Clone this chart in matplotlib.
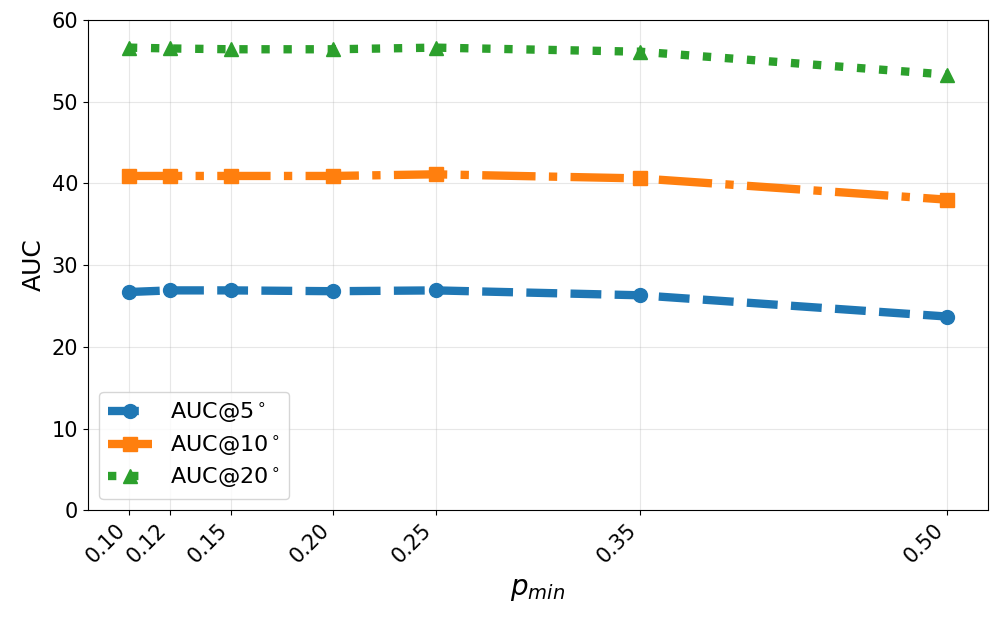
import matplotlib
matplotlib.use("Agg")
import matplotlib.pyplot as plt

# p_min values and AUC results
p_min = [0.10, 0.12, 0.15, 0.20, 0.25, 0.35, 0.50]
auc5 = [26.7, 26.9, 26.9, 26.8, 26.9, 26.3, 23.7]
auc10 = [40.9, 40.9, 40.9, 40.9, 41.1, 40.6, 38.0]
auc20 = [56.6, 56.5, 56.4, 56.4, 56.6, 56.1, 53.3]
tick_labels = ["0.10", "0.12", "0.15", "0.20", "0.25", "0.35", "0.50"]

fig, ax = plt.subplots(figsize=(10, 6.2), dpi=100)

ax.plot(p_min, auc5, linestyle="--", marker="o", markersize=10, linewidth=6,
        color="#1f77b4", label=r"AUC@5$^\circ$")
ax.plot(p_min, auc10, linestyle="-.", marker="s", markersize=10, linewidth=6,
        color="#ff7f0e", label=r"AUC@10$^\circ$")
ax.plot(p_min, auc20, linestyle=":", marker="^", markersize=10, linewidth=6,
        color="#2ca02c", label=r"AUC@20$^\circ$")

ax.set_ylim(0, 60)
ax.set_xticks(p_min)
ax.set_xticklabels(tick_labels, rotation=45, ha="right")
ax.tick_params(labelsize=15)
ax.set_xlabel(r"$p_{min}$", fontsize=20, labelpad=6)
ax.set_ylabel("AUC", fontsize=18)
ax.grid(True, alpha=0.3)
ax.legend(loc="lower left", fontsize=16, labelspacing=0.35)

plt.subplots_adjust(left=0.088, right=0.988, top=0.968, bottom=0.177)
plt.savefig("out.png")
